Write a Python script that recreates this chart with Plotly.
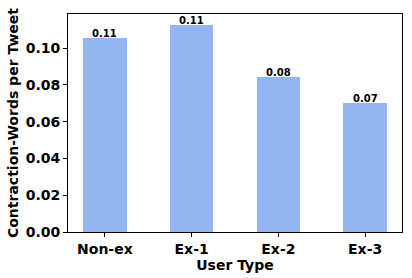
import plotly.graph_objects as go

categories = ["Non-ex", "Ex-1", "Ex-2", "Ex-3"]
values = [0.1054, 0.1126, 0.0844, 0.0703]
labels = ["0.11", "0.11", "0.08", "0.07"]
yticks = [0.00, 0.02, 0.04, 0.06, 0.08, 0.10]

font = "DejaVu Sans"
fig = go.Figure()
fig.add_trace(go.Bar(
    x=list(range(len(categories))), y=values, width=0.5,
    marker=dict(color="#93B5F2", line=dict(width=0)),
    showlegend=False, hoverinfo="skip",
))
for i, (v, t) in enumerate(zip(values, labels)):
    fig.add_annotation(x=i, y=v, text=f"<b>{t}</b>", showarrow=False,
                       yanchor="bottom", yshift=-3,
                       font=dict(family=font, size=10, color="black"))

fig.update_layout(
    width=412, height=278,
    margin=dict(l=68, r=10, t=14, b=46),
    paper_bgcolor="white", plot_bgcolor="white",
    font=dict(family=font, color="black"),
    bargap=0,
)
fig.update_xaxes(
    automargin=False,
    range=[-0.425, 3.425],
    tickmode="array", tickvals=list(range(len(categories))),
    ticktext=[f"<b>{c}</b>" for c in categories],
    tickfont=dict(size=14, family=font),
    ticks="outside", ticklen=4, tickcolor="black",
    showline=True, linecolor="black", linewidth=1, mirror=True,
    showgrid=False, zeroline=False,
    title=dict(text="<b>User Type</b>", font=dict(size=14, family=font), standoff=0),
)
fig.update_yaxes(
    automargin=False,
    range=[0, 0.1185],
    tickmode="array", tickvals=yticks,
    ticktext=[f"<b>{v:.2f}</b>" for v in yticks],
    tickfont=dict(size=14, family=font),
    ticks="outside", ticklen=4, tickcolor="black",
    showline=True, linecolor="black", linewidth=1, mirror=True,
    showgrid=False, zeroline=False,
    title=dict(text="<b>Contraction-Words per Tweet</b>", font=dict(size=14, family=font), standoff=3),
)
fig.write_html("out.html", config={"displayModeBar": False, "staticPlot": True},
               post_script="document.body.style.margin='0';")
